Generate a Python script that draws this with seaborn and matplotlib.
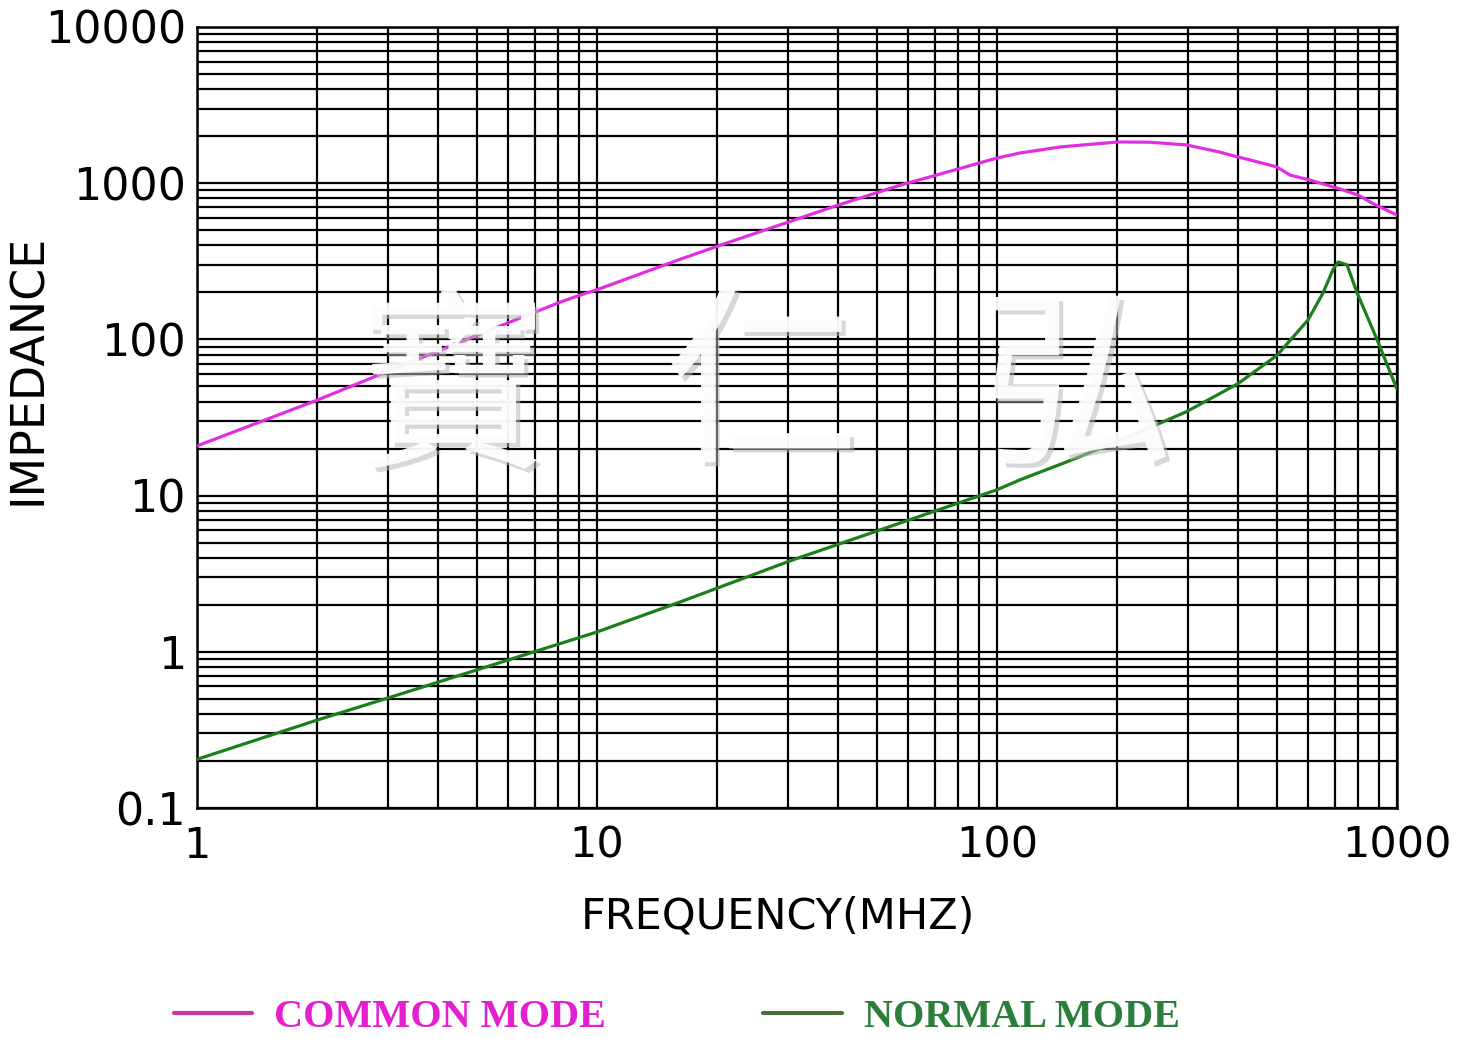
import seaborn as sns
import matplotlib.pyplot as plt
import matplotlib.ticker as mticker
import matplotlib.patheffects as pe
import pandas as pd

# Common mode curve (frequency MHz, impedance ohm)
cm_freq = [1, 2, 3, 6.42, 8.08, 9.07, 10, 16.1, 20, 39.8, 57.2, 70.8, 100,
           114, 144, 200, 241, 298, 361, 400, 429, 501, 540, 606, 708, 799, 871, 1000]
cm_imp = [20.8, 40.9, 62.5, 137, 173, 192, 208, 325, 395, 720, 970, 1130, 1449,
          1560, 1706, 1836, 1830, 1757, 1580, 1472, 1409, 1271, 1127, 1047, 931, 840, 740, 625]

# Normal mode curve
nm_freq = [1, 2, 3, 10, 16.1, 30.9, 100, 114, 150, 200, 251, 298, 400, 501,
           599, 653, 692, 713, 750, 794, 891, 1000]
nm_imp = [0.205, 0.366, 0.506, 1.34, 2.08, 3.88, 10.9, 12.6, 16.5, 22.2, 28.5, 34.5,
          52, 79, 133, 198, 280, 313, 300, 200, 100, 48]

x_ticks = [1, 10, 100, 1000]
x_tick_labels = ["1", "10", "100", "1000"]
y_ticks = [0.1, 1, 10, 100, 1000, 10000]
y_tick_labels = ["0.1", "1", "10", "100", "1000", "10000"]
watermark = ["寶", "仁", "弘"]

cm_df = pd.DataFrame({"freq": cm_freq, "imp": cm_imp})
nm_df = pd.DataFrame({"freq": nm_freq, "imp": nm_imp})

sns.set_style("white")
plt.rcParams["font.family"] = ["DejaVu Sans"]
plt.rcParams["text.color"] = "black"
plt.rcParams["axes.labelcolor"] = "black"
plt.rcParams["xtick.color"] = "black"
plt.rcParams["ytick.color"] = "black"

fig = plt.figure(figsize=(14.65, 10.39), dpi=100)
ax = fig.add_axes([197 / 1465, 1 - 808 / 1039, 1200 / 1465, 781 / 1039])

ax.set_xscale("log")
ax.set_yscale("log")

sns.lineplot(data=cm_df, x="freq", y="imp", ax=ax, color="#e22ee2",
             linewidth=2.3, label="COMMON MODE", zorder=3)
sns.lineplot(data=nm_df, x="freq", y="imp", ax=ax, color="#1c7f1c",
             linewidth=2.3, label="NORMAL MODE", zorder=3)

ax.set_xlim(1, 1000)
ax.set_ylim(0.1, 10000)

ax.xaxis.set_major_locator(mticker.FixedLocator(x_ticks))
ax.xaxis.set_major_formatter(mticker.FixedFormatter(x_tick_labels))
ax.yaxis.set_major_locator(mticker.FixedLocator(y_ticks))
ax.yaxis.set_major_formatter(mticker.FixedFormatter(y_tick_labels))
ax.xaxis.set_minor_locator(mticker.LogLocator(base=10, subs=range(2, 10), numticks=20))
ax.yaxis.set_minor_locator(mticker.LogLocator(base=10, subs=range(2, 10), numticks=20))
ax.xaxis.set_minor_formatter(mticker.NullFormatter())
ax.yaxis.set_minor_formatter(mticker.NullFormatter())

ax.grid(True, which="both", color="black", linewidth=1.6)
ax.set_axisbelow(True)
ax.tick_params(which="both", length=0)
ax.tick_params(axis="x", labelsize=31, pad=12)
ax.tick_params(axis="y", labelsize=32, pad=8)
for s in ax.spines.values():
    s.set_color("black")
    s.set_linewidth(1.8)

ax.set_xlabel("FREQUENCY(MHZ)", fontsize=31)
ax.set_ylabel("IMPEDANCE", fontsize=33)
ax.xaxis.set_label_coords(0.484, -0.112)
ax.yaxis.set_label_coords(-0.122, 0.561)

# watermark
wm_pos = [(452, 398), (762, 392), (1078, 395)]
for ch, (px, py) in zip(watermark, wm_pos):
    fig.text(px / 1465, 1 - py / 1039, ch, fontsize=140,
             family=["Noto Sans CJK TC", "DejaVu Sans"], color="white",
             alpha=0.93, ha="center", va="center", zorder=5,
             path_effects=[pe.withSimplePatchShadow(offset=(3, -3), shadow_rgbFace="#b8b8b8", alpha=0.55)])

# legend along the bottom
ax.get_legend().remove()
handles, labels = ax.get_legend_handles_labels()
leg = fig.legend(handles, labels, loc="center", bbox_to_anchor=(0.462, 1 - 1017 / 1039),
                 ncol=2, frameon=False, handlelength=1.95, handletextpad=0.55,
                 columnspacing=3.9, prop={"family": "Liberation Serif", "weight": "bold", "size": 29})
for txt, c in zip(leg.get_texts(), ["#e31fcf", "#2b7f3b"]):
    txt.set_color(c)
for line, c in zip(leg.get_lines(), ["#c8389f", "#4a6b3a"]):
    line.set_color(c)
    line.set_linewidth(3)

fig.savefig("out.png", dpi=100)
